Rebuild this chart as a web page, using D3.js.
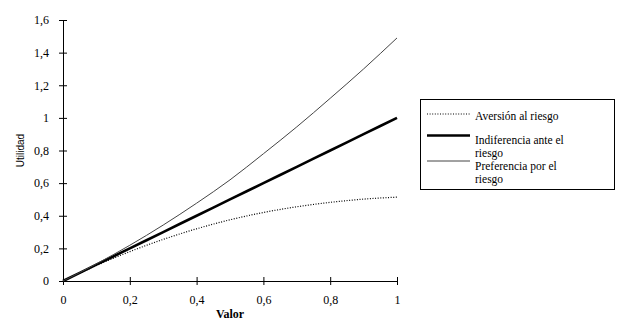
<!DOCTYPE html>
<html>
<head>
<meta charset="utf-8">
<script src="https://cdn.jsdelivr.net/npm/d3@7"></script>
<style>
  html, body { margin: 0; padding: 0; background: #fff; }
  svg { display: block; }
  .serif { font-family: 'Liberation Serif', 'Times New Roman', Times, serif; }
  .sans { font-family: 'Liberation Sans', Arial, sans-serif; }
</style>
</head>
<body>
<svg id="chart" width="630" height="324"></svg>
<script>
// Utility curves for three attitudes towards risk
const valores = [0, 0.1, 0.2, 0.3, 0.4, 0.5, 0.6, 0.7, 0.8, 0.9, 1];
const aversion = [0, 0.095, 0.18, 0.255, 0.32, 0.375, 0.42, 0.455, 0.482, 0.502, 0.514];
const indiferencia = [0, 0.1, 0.2, 0.3, 0.4, 0.5, 0.6, 0.7, 0.8, 0.9, 1];
const preferencia = [0, 0.105, 0.219, 0.343, 0.477, 0.62, 0.78, 0.945, 1.12, 1.3, 1.49];

const xTicks = [0, 0.2, 0.4, 0.6, 0.8, 1];
const yTicks = [0, 0.2, 0.4, 0.6, 0.8, 1, 1.2, 1.4, 1.6];

const series = [
  { name: ["Aversión al riesgo"], values: aversion, width: 1.2, dash: "1,1.6", color: "#000" },
  { name: ["Indiferencia ante el", "riesgo"], values: indiferencia, width: 2.6, dash: null, color: "#000" },
  { name: ["Preferencia por el", "riesgo"], values: preferencia, width: 1, dash: null, color: "#444" }
];

const svg = d3.select("#chart");
const fmt = d => String(d).replace(".", ",");

const x = d3.scaleLinear().domain([0, 1]).range([63, 397]);
const y = d3.scaleLinear().domain([0, 1.6]).range([281, 20]);

// Axes
const xAxis = d3.axisBottom(x).tickValues(xTicks).tickFormat(fmt).tickSizeInner(4).tickSizeOuter(0).tickPadding(10);
const gx = svg.append("g").attr("transform", `translate(0,${y(0)})`).call(xAxis);
gx.selectAll(".tick line").attr("y1", -4).attr("y2", 4);

const yAxis = d3.axisLeft(y).tickValues(yTicks).tickFormat(fmt).tickSizeInner(4).tickSizeOuter(0).tickPadding(10);
const gy = svg.append("g").attr("transform", `translate(${x(0)},0)`).call(yAxis);
gy.selectAll(".tick line").attr("x1", -4).attr("x2", 4);

[gx, gy].forEach(g => g.attr("font-family", null).attr("font-size", 12).attr("class", "serif"));
svg.selectAll(".domain").attr("stroke", "#000").attr("stroke-width", 1);
svg.selectAll(".tick line").attr("stroke", "#000");
svg.selectAll(".tick text").attr("fill", "#000");

// Axis titles
svg.append("text")
  .attr("class", "serif")
  .attr("x", (x(0) + x(1)) / 2).attr("y", 318)
  .attr("text-anchor", "middle")
  .attr("font-size", 12).attr("font-weight", "bold")
  .text("Valor");

svg.append("text")
  .attr("class", "sans")
  .attr("transform", `translate(24,${(y(0) + y(1.6)) / 2}) rotate(-90)`)
  .attr("text-anchor", "middle")
  .attr("font-size", 10)
  .text("Utilidad");

// Curves
const line = d3.line()
  .x((d, i) => x(valores[i]))
  .y(d => y(d))
  .curve(d3.curveMonotoneX);

series.forEach(s => {
  svg.append("path")
    .datum(s.values)
    .attr("d", line)
    .attr("fill", "none")
    .attr("stroke", s.color)
    .attr("stroke-width", s.width)
    .attr("stroke-dasharray", s.dash);
});

// Legend
const legend = svg.append("g").attr("class", "serif").attr("font-size", 11.5);
legend.append("rect")
  .attr("x", 420.5).attr("y", 99.5).attr("width", 194).attr("height", 90)
  .attr("fill", "#fff").attr("stroke", "#000").attr("stroke-width", 1);

const sampleY = [114, 135.5, 161];
const textY = [120, 144, 170];
series.forEach((s, i) => {
  legend.append("line")
    .attr("x1", 427).attr("x2", 470).attr("y1", sampleY[i]).attr("y2", sampleY[i])
    .attr("stroke", s.color).attr("stroke-width", s.width)
    .attr("stroke-dasharray", s.dash);
  s.name.forEach((t, j) => {
    legend.append("text")
      .attr("x", 475).attr("y", textY[i] + j * 13)
      .text(t);
  });
});
</script>
</body>
</html>
